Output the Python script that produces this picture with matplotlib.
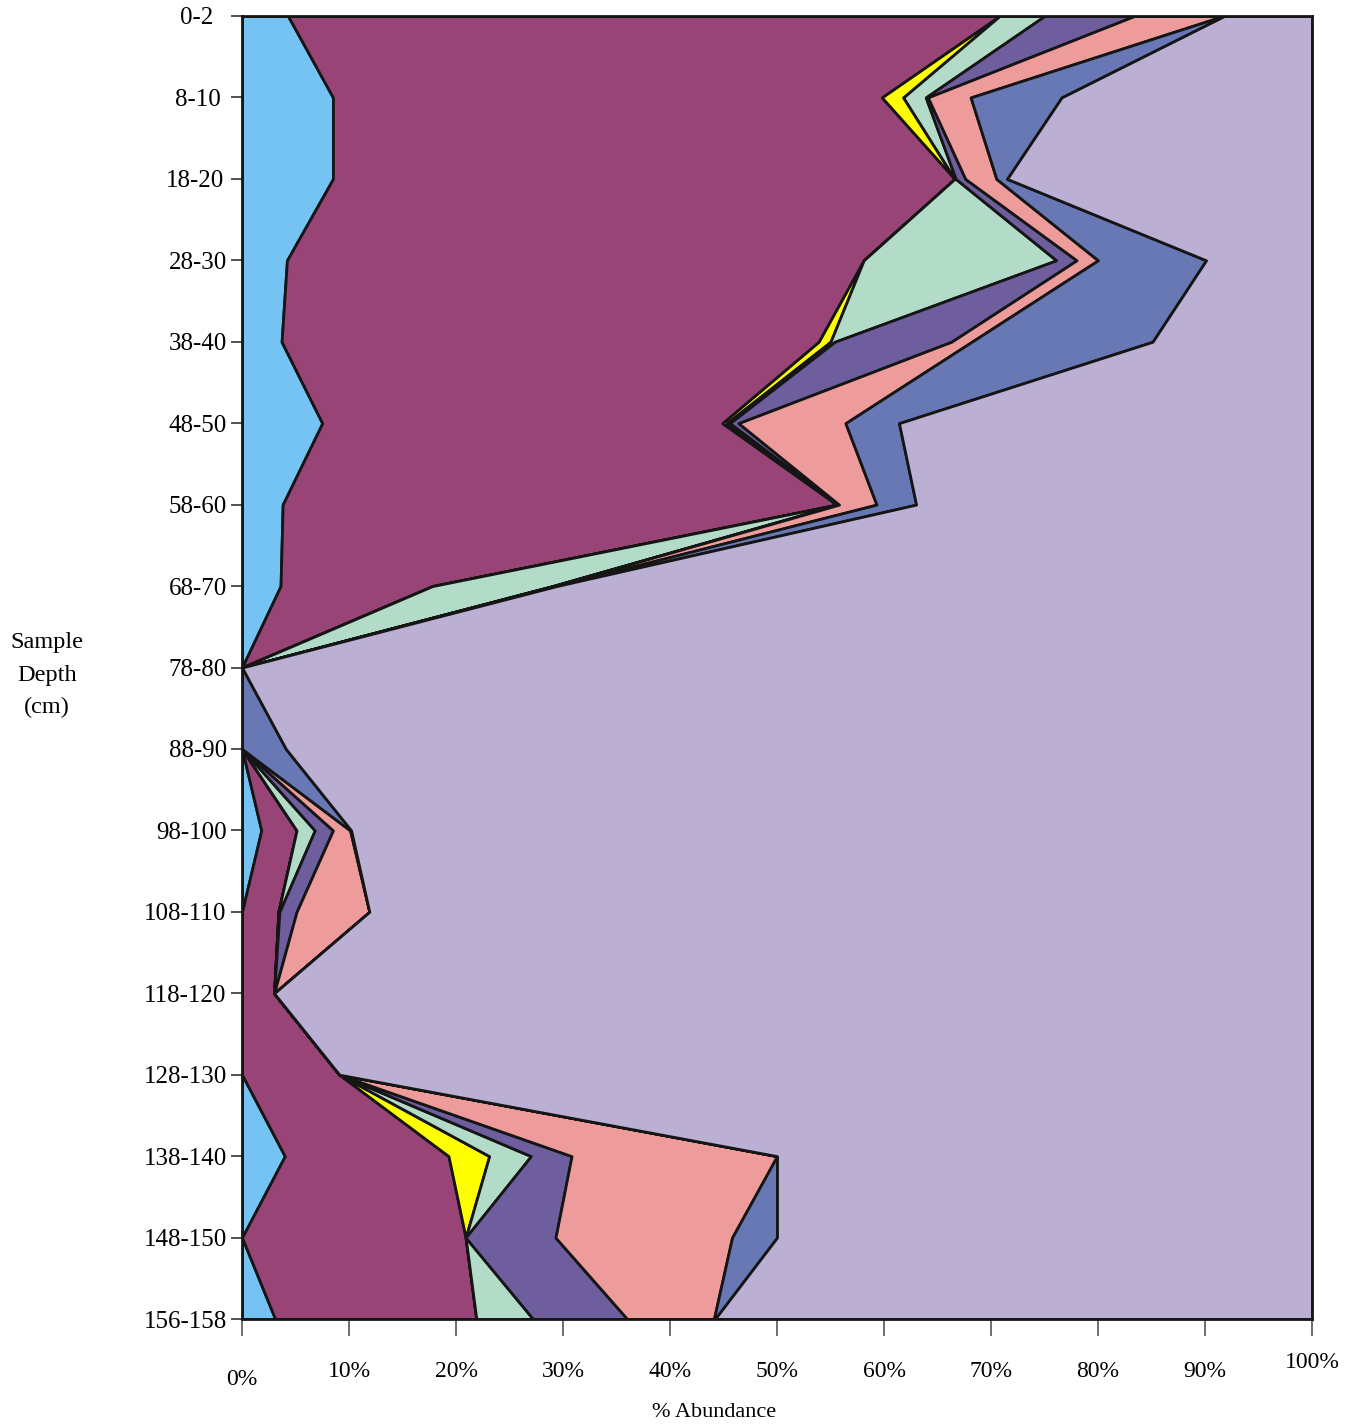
import matplotlib.pyplot as plt
import numpy as np

depths = ["0-2", "8-10", "18-20", "28-30", "38-40", "48-50", "58-60", "68-70",
          "78-80", "88-90", "98-100", "108-110", "118-120", "128-130",
          "138-140", "148-150", "156-158"]

# % abundance of each group per depth (stacked left to right)
light_blue = [4.3, 8.5, 8.5, 4.2, 3.7, 7.5, 3.8, 3.6, 0, 0, 1.8, 0, 0, 0, 4.0, 0, 3.1]
maroon = [66.5, 51.3, 58.1, 53.9, 50.2, 37.4, 51.8, 14.2, 0, 0, 3.3, 3.4, 3.0, 9.1, 15.3, 20.9, 18.8]
yellow = [0, 2.0, 0, 0, 1.1, 0.4, 0, 0, 0, 0, 0, 0, 0, 0, 3.8, 0, 0]
green = [4.2, 2.1, 0.1, 18.0, 0.4, 0.3, 0.1, 11.2, 0, 0, 1.7, 0.1, 0, 0, 3.9, 0, 5.3]
purple = [8.4, 0.2, 0.9, 1.9, 10.9, 0.8, 0.1, 0.1, 0, 0, 1.7, 1.6, 0, 0, 3.8, 8.4, 8.8]
pink = [8.3, 4.0, 2.9, 2.0, 1.9, 10.0, 3.5, 0.2, 0, 0, 1.6, 6.8, 0, 0, 19.2, 16.5, 8.1]
blue = [0.1, 8.5, 1.0, 10.1, 16.9, 5.0, 3.7, 0.1, 0, 4.1, 0.1, 0, 0, 0, 0, 4.2, 0.1]

series = [light_blue, maroon, yellow, green, purple, pink, blue]
colors = ["#74C3F2", "#984476", "#FFFF00", "#B2DCC8", "#6E5E9E", "#EE9B9B", "#6878B4"]
rest_color = "#BBB0D4"

plt.rcParams["font.family"] = ["Liberation Serif", "DejaVu Serif"]

fig = plt.figure(figsize=(13.51, 14.25), dpi=100)
ax = fig.add_axes([242 / 1351, 1 - 1319 / 1425, 1070 / 1351, 1303 / 1425])

y = np.arange(len(depths))
left = np.zeros(len(depths))
for vals, c in zip(series, colors):
    right = left + np.array(vals)
    ax.fill_betweenx(y, left, right, facecolor=c, edgecolor="#151515", linewidth=2)
    left = right
ax.fill_betweenx(y, left, 100, facecolor=rest_color, edgecolor="#151515", linewidth=2)

ax.set_xlim(0, 100)
ax.set_ylim(len(depths) - 1, 0)
ax.set_yticks(y)
ax.set_yticklabels(depths, fontsize=18)
ax.set_xticks(np.arange(0, 101, 10))
ax.set_xticklabels([f"{v}%" for v in range(0, 101, 10)], fontsize=17)
ax.tick_params(axis="y", direction="out", length=8, width=1.2, color="#333333")
ax.tick_params(axis="x", direction="out", length=12, width=1.2, color="#555555")

# staggered tick label offsets as in the original
for i, t in enumerate(ax.xaxis.get_major_ticks()):
    t.set_pad(24 if i == 0 else (12 if i == 10 else 18))
for i, t in enumerate(ax.yaxis.get_major_ticks()):
    t.set_pad([13, 7, 5][i] if i < 3 else 3)

for s in ax.spines.values():
    s.set_linewidth(2)
    s.set_color("#151515")

ax.set_xlabel("% Abundance", fontsize=16, va="center")
ax.xaxis.set_label_coords(0.441, -0.0715)
ax.set_ylabel("Sample\nDepth\n(cm)", fontsize=17.5, rotation=0, linespacing=1.7,
              va="center", ha="center")
ax.yaxis.set_label_coords(-0.182, 0.494)

fig.savefig("out.png", dpi=100)
